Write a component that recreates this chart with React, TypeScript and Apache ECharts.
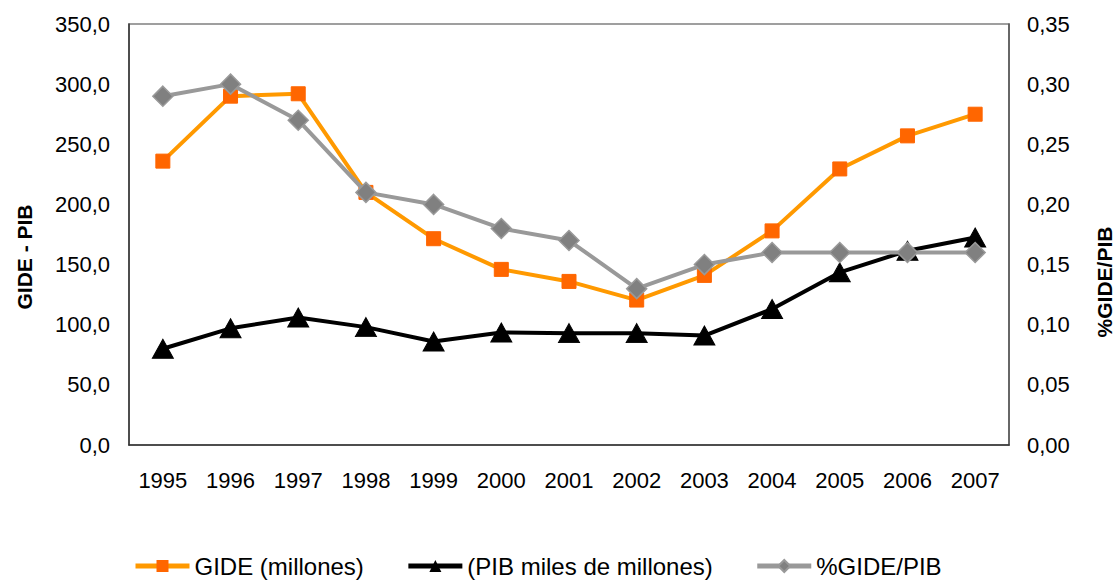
import React, { useEffect, useRef } from "react";
import * as echarts from "echarts";

const years = ["1995", "1996", "1997", "1998", "1999", "2000", "2001", "2002", "2003", "2004", "2005", "2006", "2007"];
const gide = [236, 290, 292, 210, 171.5, 146, 136, 120.5, 141, 178, 229.5, 257, 275];
const pib = [80, 97, 106, 98, 86, 93.5, 93, 93, 91, 113, 143.5, 161.5, 172.5];
const ratio = [0.29, 0.3, 0.27, 0.21, 0.2, 0.18, 0.17, 0.13, 0.15, 0.16, 0.16, 0.16, 0.16];

const FONT = "Liberation Sans, Arial, sans-serif";

export default function App() {
  const ref = useRef<HTMLDivElement>(null);
  useEffect(() => {
    const chart = echarts.init(ref.current!, null, { renderer: "svg" });
    chart.setOption({
      animation: false,
      backgroundColor: "#ffffff",
      textStyle: { fontFamily: FONT },
      grid: {
        left: 129,
        right: 109,
        top: 24,
        bottom: 136,
        show: true,
        borderColor: "#808080",
        borderWidth: 1.5,
      },
      legend: {
        top: 549,
        left: 128,
        itemWidth: 54,
        itemHeight: 15,
        itemGap: 42,
        lineStyle: { width: 5 },
        textStyle: { fontSize: 24, color: "#000", fontFamily: FONT },
        data: ["GIDE (millones)", "(PIB miles de millones)", "%GIDE/PIB"],
      },
      graphic: [
        {
          type: "text",
          x: 24,
          y: 257,
          rotation: Math.PI / 2,
          style: {
            text: "GIDE - PIB",
            fontSize: 21,
            fontWeight: "bold",
            fontFamily: FONT,
            fill: "#000",
            textAlign: "center",
            textVerticalAlign: "middle",
          },
        },
        {
          type: "text",
          x: 1104,
          y: 282,
          rotation: Math.PI / 2,
          style: {
            text: "%GIDE/PIB",
            fontSize: 21,
            fontWeight: "bold",
            fontFamily: FONT,
            fill: "#000",
            textAlign: "center",
            textVerticalAlign: "middle",
          },
        },
      ],
      xAxis: {
        type: "category",
        data: years,
        boundaryGap: true,
        axisLine: { show: true, lineStyle: { color: "#333", width: 1.5 } },
        axisTick: { show: false },
        axisLabel: { margin: 24, fontSize: 22, color: "#000", fontFamily: FONT },
        splitLine: { show: false },
      },
      yAxis: [
        {
          type: "value",
          min: 0,
          max: 350,
          interval: 50,
          axisLine: { show: true, lineStyle: { color: "#333", width: 1.5 } },
          axisTick: { show: false },
          splitLine: { show: false },
          axisLabel: {
            margin: 19,
            fontSize: 22,
            color: "#000",
            fontFamily: FONT,
            formatter: (v: number) => v.toFixed(1).replace(".", ","),
          },
        },
        {
          type: "value",
          min: 0,
          max: 0.35,
          interval: 0.05,
          position: "right",
          axisLine: { show: true, lineStyle: { color: "#555", width: 1.5 } },
          axisTick: { show: false },
          splitLine: { show: false },
          axisLabel: {
            margin: 18,
            fontSize: 22,
            color: "#000",
            fontFamily: FONT,
            formatter: (v: number) => v.toFixed(2).replace(".", ","),
          },
        },
      ],
      series: [
        {
          name: "GIDE (millones)",
          type: "line",
          data: gide,
          yAxisIndex: 0,
          symbol: "rect",
          symbolSize: 14,
          lineStyle: { color: "#FF9900", width: 4 },
          itemStyle: { color: "#FF6600", borderColor: "#FF6600" },
          z: 3,
        },
        {
          name: "(PIB miles de millones)",
          type: "line",
          data: pib,
          yAxisIndex: 0,
          symbol: "triangle",
          symbolSize: [21, 19],
          lineStyle: { color: "#000000", width: 4 },
          itemStyle: { color: "#000000", borderColor: "#000000" },
          z: 2,
        },
        {
          name: "%GIDE/PIB",
          type: "line",
          data: ratio,
          yAxisIndex: 1,
          symbol: "diamond",
          symbolSize: 20,
          lineStyle: { color: "#999999", width: 4 },
          itemStyle: { color: "#808080", borderColor: "#999999", borderWidth: 1.5 },
          z: 4,
        },
      ],
    });
    return () => chart.dispose();
  }, []);
  return (
    <div
      ref={ref}
      style={{ position: "fixed", left: 0, top: 0, width: 1118, height: 581 }}
    />
  );
}
